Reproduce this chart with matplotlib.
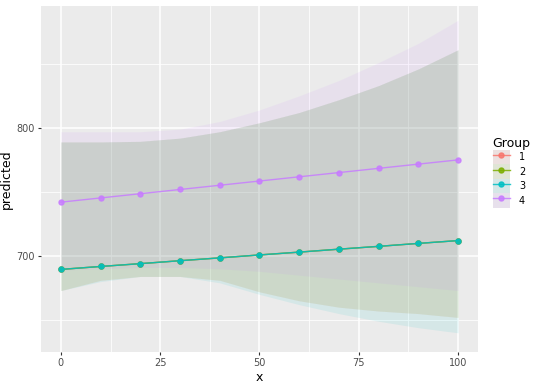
import numpy as np
import matplotlib
matplotlib.use("Agg")
from matplotlib import pyplot as plt
from matplotlib.lines import Line2D
from matplotlib.patches import Patch

# data
x = [0, 10, 20, 30, 40, 50, 60, 70, 80, 90, 100]
groups = ["1", "2", "3", "4"]
colors = ["#F8766D", "#7CAE00", "#00BFC4", "#C77CFF"]

pred_high = [742.0, 745.3, 748.6, 751.9, 755.2, 758.5, 761.8, 765.1, 768.4, 771.7, 775.0]
pred_low = [689.5, 691.8, 694.0, 696.3, 698.5, 700.8, 703.0, 705.3, 707.5, 709.8, 712.0]
predicted = [pred_low, pred_low, pred_low, pred_high]

lower_1 = [673.0, 681.0, 684.0, 684.0, 681.0, 672.0, 665.0, 660.0, 657.0, 655.0, 652.0]
upper_1 = [789.0, 789.0, 789.5, 792.0, 797.0, 804.0, 812.0, 822.0, 833.0, 846.0, 861.0]
lower_2 = [673.0, 681.0, 684.0, 684.0, 681.0, 672.0, 665.0, 660.0, 657.0, 655.0, 652.0]
upper_2 = [789.0, 789.0, 789.5, 792.0, 797.0, 804.0, 812.0, 822.0, 833.0, 846.0, 861.0]
lower_3 = [673.0, 680.0, 684.0, 684.0, 679.0, 670.0, 662.0, 655.0, 649.0, 644.0, 640.0]
upper_3 = [789.0, 789.0, 789.5, 792.0, 797.0, 804.0, 812.0, 822.0, 833.0, 846.0, 861.0]
lower_4 = [689.0, 690.0, 691.0, 691.0, 690.0, 688.0, 685.0, 682.0, 679.0, 676.0, 673.0]
upper_4 = [797.0, 797.0, 797.0, 799.0, 805.0, 814.0, 825.0, 837.0, 851.0, 866.0, 884.0]
lowers = [lower_1, lower_2, lower_3, lower_4]
uppers = [upper_1, upper_2, upper_3, upper_4]

x_ticks = [0, 25, 50, 75, 100]
y_ticks = [700, 800]

fig = plt.figure(figsize=(5.4, 3.86), dpi=100)
ax = fig.add_axes([0.076, 0.088, 0.809, 0.896])
ax.set_facecolor("#EBEBEB")
for s in ax.spines.values():
    s.set_visible(False)

# ribbons first, then lines with points
for lo, hi, c in zip(lowers, uppers, colors):
    ax.fill_between(x, lo, hi, color=c, alpha=0.09, linewidth=0)
for g, p, c in zip(groups, predicted, colors):
    ax.plot(x, p, color=c, linewidth=1.0, marker="o", markersize=3.6, alpha=0.85)

ax.set_xlim(-5, 105)
ax.set_ylim(625, 895)
ax.set_xticks(x_ticks)
ax.set_yticks(y_ticks)
ax.set_xticks([12.5, 37.5, 62.5, 87.5], minor=True)
ax.set_yticks([650, 750, 850], minor=True)
ax.set_axisbelow(True)
ax.grid(which="major", color="white", linewidth=1.1)
ax.grid(which="minor", color="white", linewidth=0.55)
ax.tick_params(which="major", length=2.5, width=0.8, color="#333333",
               labelsize=7, labelcolor="#4D4D4D", pad=2)
ax.tick_params(which="minor", length=0)
ax.set_xlabel("x", fontsize=9, labelpad=2)
ax.set_ylabel("predicted", fontsize=9)
ax.yaxis.set_label_coords(-0.065, 0.5)

handles = []
for c in colors:
    handles.append((Patch(facecolor="#EBEBEB", edgecolor="none"),
                    Patch(facecolor=c, alpha=0.09, edgecolor="none"),
                    Line2D([], [], color=c, linewidth=1.0, marker="o", markersize=3.6, alpha=0.85)))
leg = fig.legend(handles, groups, title="Group", loc="upper left",
                 bbox_to_anchor=(0.905, 0.655), frameon=False, fontsize=7,
                 title_fontsize=9, handlelength=1.8, handleheight=1.9,
                 handletextpad=0.9, labelspacing=0.0, borderaxespad=0)
leg._legend_box.align = "left"

fig.savefig("out.png", dpi=100)
